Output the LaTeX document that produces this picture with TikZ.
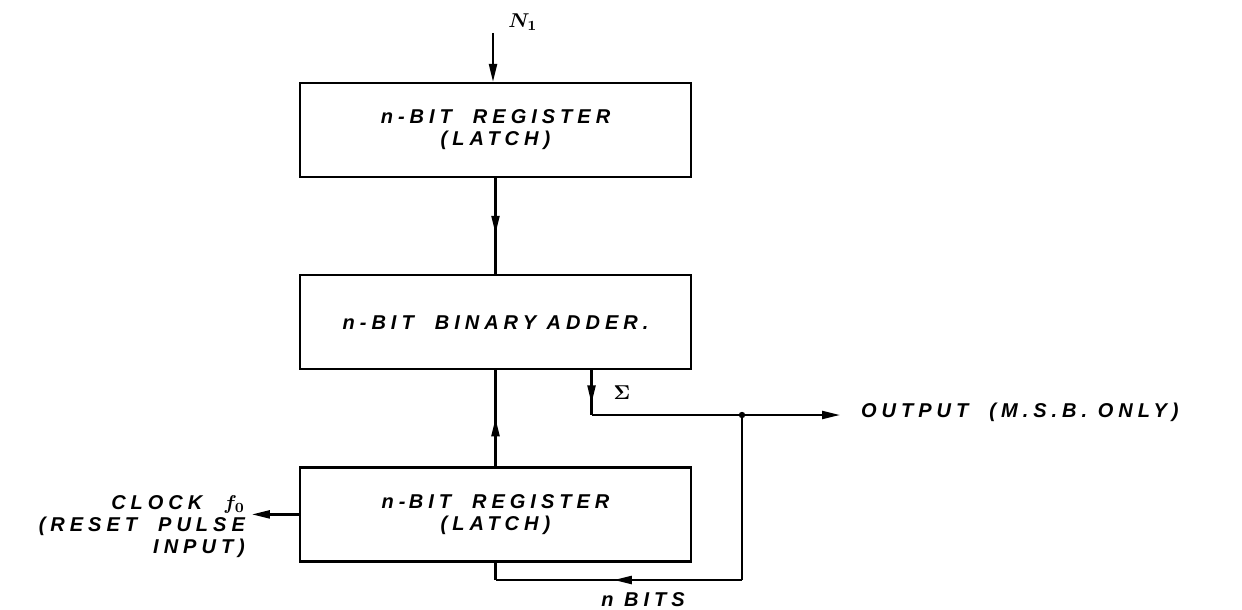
\documentclass[tikz,border=0pt]{standalone}
\usepackage{fontspec}
\newfontfamily\handfont{Liberation Sans}[LetterSpace=25]
\usetikzlibrary{positioning,arrows.meta,calc,decorations.markings}

\begin{document}
\begin{tikzpicture}[x=0.5pt, y=-0.5pt, >={Triangle[length=9pt,width=4pt]}, line width=1.1pt,
          node distance=48pt and 20pt,
          latch/.style={draw, minimum width=195.5pt, minimum height=47pt, align=center,
            font=\handfont\bfseries\itshape\boldmath\fontsize{10}{11}\selectfont},
          tag/.style={inner sep=1pt, align=center, font=\handfont\bfseries\itshape\boldmath\fontsize{10}{11}\selectfont},
          midarrow/.style={postaction={decorate}, decoration={markings, mark=at position #1 with {\arrow{>}}}}]
        \useasboundingbox (0,0) rectangle (1242,610);
        \node[latch] (reg1) at (495.5,130) {n-BIT\ \ REGISTER\\(LATCH)};
        \node[latch, below=of reg1] (adder) {n-BIT\ \ BINARY ADDER.};
        \node[latch, below=of adder] (reg2) {n-\,BIT\ \ REGISTER\\(LATCH)};
        % input N1
        \coordinate (n1) at (493,33);
        \node[tag] (n1lbl) at (523,22) {$N_1$};
        \draw[->] (n1) -- (n1 |- reg1.north);
        \draw[midarrow=0.58] (reg1) -- (adder);
        \draw[midarrow=0.5] (reg2) -- (adder);
        % sum out and feedback
        \coordinate (sigma) at ([xshift=48pt]adder.south);
        \coordinate (tap) at (742,415);
        \coordinate (out) at (840,415);
        \coordinate (fb) at (742,580);
        \draw[midarrow=0.74] (sigma) -- (sigma |- tap);
        \draw (sigma |- tap) -- (tap);
        \draw[->] (tap) -- (out);
        \fill (tap) circle (1.6pt);
        \node[tag] (sumlbl) at (622,393) {$\Sigma$};
        \node[tag, anchor=west] (outlbl) at (858,412) {OUTPUT\ \ (M.S.B. ONLY)};
        \draw (tap) -- (fb);
        \draw[midarrow=0.52] (fb) -- (fb -| reg2.south);
        \draw (fb -| reg2.south) -- (reg2.south);
        \node[tag] (bitslbl) at (643,600) {n\ BITS};
        % clock
        \coordinate (clk) at ([xshift=-23.5pt]reg2.west);
        \draw[->] (reg2.west) -- (clk);
        \node[tag, anchor=east, align=right] (clklbl) at (248,527) {CLOCK\ \ $f_0$\\(RESET\ \ PULSE\\INPUT)};
      \end{tikzpicture}
\end{document}
